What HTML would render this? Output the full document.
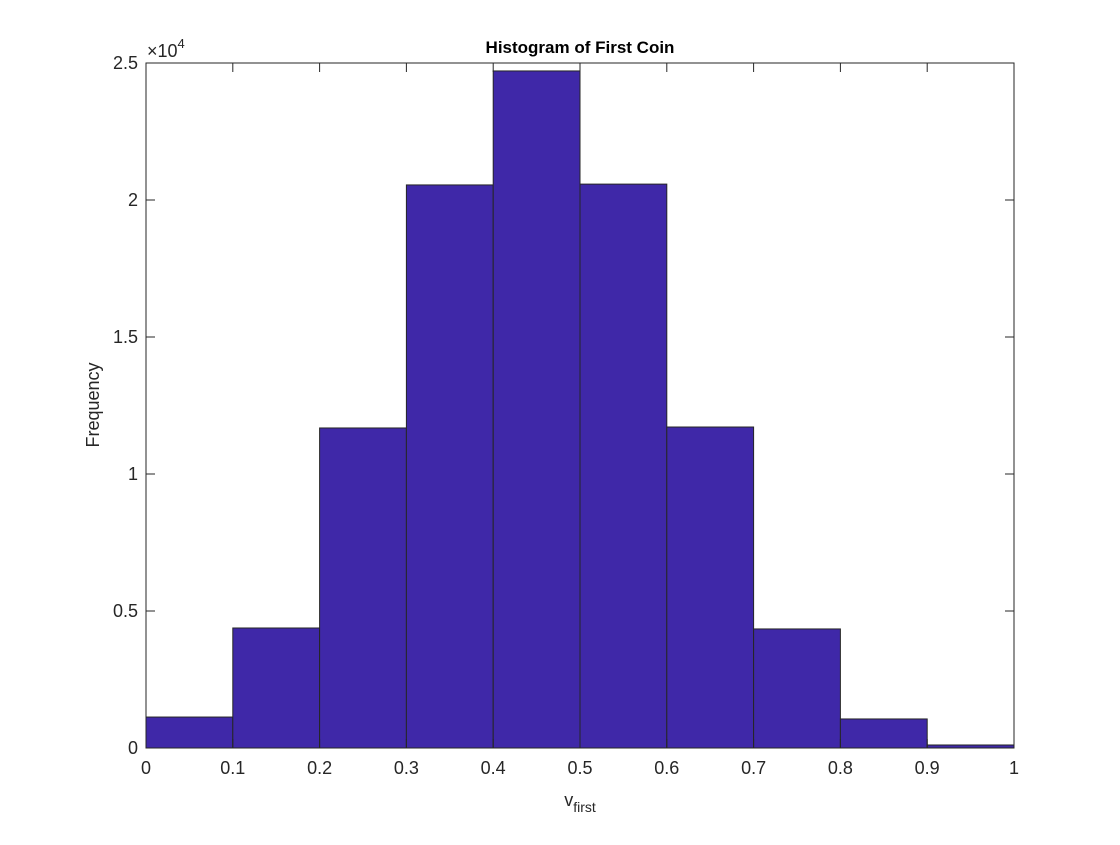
<!DOCTYPE html>
<html><head><meta charset="utf-8"><style>
body{margin:0;background:#fff;}
svg text{font-family:"Liberation Sans",Arial,sans-serif;}
</style></head><body>
<svg id="chart" width="1120" height="840" xmlns="http://www.w3.org/2000/svg">
<rect width="1120" height="840" fill="#fff"/>
<g id="bars"></g>
<g id="axes"></g>
<text x="580" y="53" font-size="17" font-weight="bold" text-anchor="middle">Histogram of First Coin</text>
<text x="580" y="806" font-size="18" text-anchor="middle" fill="#262626">v<tspan font-size="14" dy="6">first</tspan></text>
<text transform="translate(99,405) rotate(-90)" font-size="18" text-anchor="middle" fill="#262626">Frequency</text>
<text x="147" y="57" font-size="18" fill="#262626">×10<tspan font-size="13" dy="-9">4</tspan></text>
</svg>
<script>
const binEdges=[0,0.1,0.2,0.3,0.4,0.5,0.6,0.7,0.8,0.9,1.0];
const counts=[1130,4380,11680,20550,24710,20580,11715,4345,1060,110];
const xTicks=[0,0.1,0.2,0.3,0.4,0.5,0.6,0.7,0.8,0.9,1];
const xTickLabels=["0","0.1","0.2","0.3","0.4","0.5","0.6","0.7","0.8","0.9","1"];
const yTicks=[0,5000,10000,15000,20000,25000];
const yTickLabels=["0","0.5","1","1.5","2","2.5"];
const L=146,R=1014,T=63,B=748;
const xs=v=>L+(v-0)/(1-0)*(R-L);
const ys=v=>B-v/25000*(B-T);
const NS="http://www.w3.org/2000/svg";
function mk(tag,attrs,parent){const e=document.createElementNS(NS,tag);for(const k in attrs)e.setAttribute(k,attrs[k]);parent.appendChild(e);return e;}
const bars=document.getElementById('bars');
counts.forEach((c,i)=>{
  const x0=xs(binEdges[i]),x1=xs(binEdges[i+1]),y=ys(c);
  const r=mk('rect',{x:x0,y:y,width:x1-x0,height:B-y,fill:'#3f28a8',stroke:'#262626','stroke-width':1},bars);
  
  
});
const ax=document.getElementById('axes');
const box=mk('rect',{x:L,y:T,width:R-L,height:B-T,fill:'none',stroke:'#262626','stroke-width':1},ax);


xTicks.forEach((v,i)=>{
  const x=xs(v);
  mk('line',{x1:x,x2:x,y1:B,y2:B-9,stroke:'#262626'},ax);
  mk('line',{x1:x,x2:x,y1:T,y2:T+9,stroke:'#262626'},ax);
  const t=mk('text',{x:x,y:B+26,'font-size':18,'text-anchor':'middle',fill:'#262626'},ax);
  t.textContent=xTickLabels[i];
  
  
});
yTicks.forEach((v,i)=>{
  const y=ys(v);
  mk('line',{x1:L,x2:L+9,y1:y,y2:y,stroke:'#262626'},ax);
  mk('line',{x1:R,x2:R-9,y1:y,y2:y,stroke:'#262626'},ax);
  const t=mk('text',{x:L-8,y:y+6,'font-size':18,'text-anchor':'end',fill:'#262626'},ax);
  t.textContent=yTickLabels[i];
  
  
});
</script>
</body></html>
